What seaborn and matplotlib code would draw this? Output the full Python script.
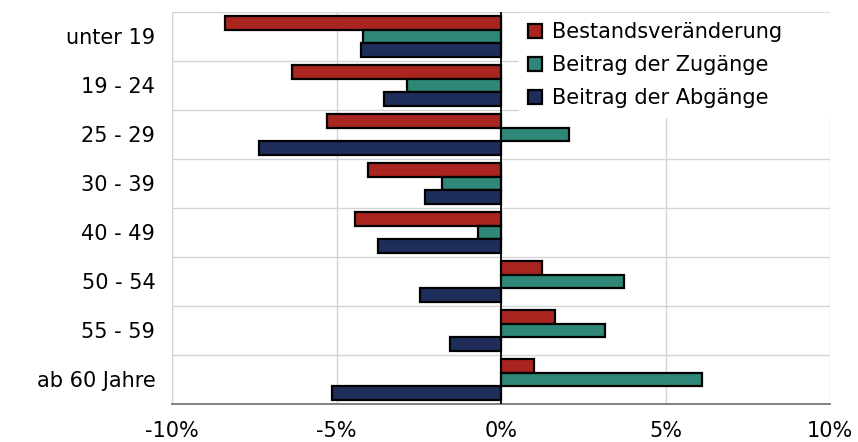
import matplotlib
matplotlib.use("Agg")
import matplotlib.pyplot as plt
import matplotlib.ticker as mticker
import numpy as np
import pandas as pd
import seaborn as sns

gruppen = ["unter 19", "19 - 24", "25 - 29", "30 - 39", "40 - 49",
           "50 - 54", "55 - 59", "ab 60 Jahre"]
serien = ["Bestandsveränderung", "Beitrag der Zugänge", "Beitrag der Abgänge"]

bestand = [-8.4, -6.35, -5.3, -4.05, -4.45, 1.25, 1.65, 1.0]
zugaenge = [-4.2, -2.85, 2.05, -1.8, -0.7, 3.75, 3.15, 6.1]
abgaenge = [-4.25, -3.55, -7.35, -2.3, -3.75, -2.45, -1.55, -5.15]

farben = ["#AA2420", "#2E8777", "#1F2D5B"]

df = pd.DataFrame({
    "Gruppe": gruppen * 3,
    "Wert": bestand + zugaenge + abgaenge,
    "Serie": [s for s in serien for _ in gruppen],
})

sns.set_style("white")
plt.rcParams["font.family"] = ["DejaVu Sans"]
plt.rcParams["axes.unicode_minus"] = False
plt.rcParams["text.color"] = "black"
plt.rcParams["xtick.color"] = "#777777"
plt.rcParams["xtick.labelcolor"] = "black"
plt.rcParams["ytick.labelcolor"] = "black"

fig = plt.figure(figsize=(8.58, 4.42), dpi=100)
ax = fig.add_axes([0.2005, 0.086, 0.767, 0.887])

sns.barplot(data=df, y="Gruppe", x="Wert", hue="Serie", orient="h",
            palette=farben, order=gruppen, hue_order=serien, saturation=1,
            edgecolor="black", linewidth=1.6, width=0.84, ax=ax)

ax.set_xlim(-10, 10)
ax.set_ylim(7.5, -0.5)
ax.set_xticks([-10, -5, 0, 5, 10])
ax.xaxis.set_major_formatter(mticker.PercentFormatter(xmax=100, decimals=0))
ax.set_yticks(np.arange(len(gruppen)), gruppen)
ax.set_yticks(np.arange(len(gruppen) + 1) - 0.5, minor=True)
ax.set_xlabel("")
ax.set_ylabel("")

ax.grid(axis="x", which="major", color="#d4d4d4", lw=1.0)
ax.grid(axis="y", which="minor", color="#d4d4d4", lw=1.0)
ax.set_axisbelow(True)
ax.axvline(0, color="black", lw=1.3, zorder=3)

for s in ["top", "right"]:
    ax.spines[s].set_visible(False)
ax.spines["left"].set_color("#d4d4d4")
ax.spines["bottom"].set_color("#777777")
ax.spines["bottom"].set_linewidth(1.3)

ax.tick_params(axis="y", which="both", length=0, pad=12, labelsize=15)
ax.tick_params(axis="x", which="major", length=6, direction="out",
               pad=6, labelsize=15)
ax.tick_params(axis="x", which="minor", length=0)

# legend box sits on top of the grid, stretched to the right edge
leg = ax.legend(loc="upper left", bbox_to_anchor=(0.527, 0.998, 0.485, 0.0),
                mode="expand", frameon=True, fontsize=15, handlelength=0.65,
                handleheight=0.65, handletextpad=0.5, labelspacing=0.62,
                borderaxespad=0.0, borderpad=0.45)
leg.get_frame().set_facecolor("white")
leg.get_frame().set_edgecolor("white")
leg.get_frame().set_alpha(1.0)
leg.get_frame().set_boxstyle("square", pad=0)
leg.set_zorder(5)

fig.savefig("out.png", dpi=100)
